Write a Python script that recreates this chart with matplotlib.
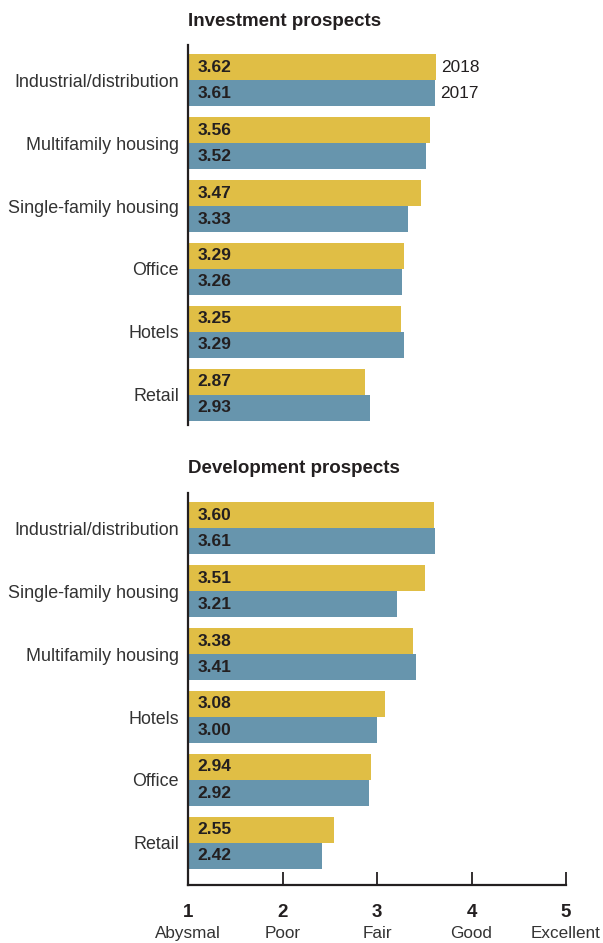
import numpy as np
import matplotlib
matplotlib.use("Agg")
import matplotlib.pyplot as plt
from matplotlib import rcParams

rcParams.update({
    "font.family": ["Liberation Sans", "DejaVu Sans"],
    "text.color": "#231f20",
})

# Survey ratings, 2018 vs 2017
inv_categories = ["Industrial/distribution", "Multifamily housing", "Single-family housing",
                  "Office", "Hotels", "Retail"]
inv_2018 = [3.62, 3.56, 3.47, 3.29, 3.25, 2.87]
inv_2017 = [3.61, 3.52, 3.33, 3.26, 3.29, 2.93]

dev_categories = ["Industrial/distribution", "Single-family housing", "Multifamily housing",
                  "Hotels", "Office", "Retail"]
dev_2018 = [3.60, 3.51, 3.38, 3.08, 2.94, 2.55]
dev_2017 = [3.61, 3.21, 3.41, 3.00, 2.92, 2.42]

scale_ticks = [1, 2, 3, 4, 5]
scale_names = ["Abysmal", "Poor", "Fair", "Good", "Excellent"]

YELLOW = "#e0be45"
BLUE = "#6795ad"
DARK = "#231f20"

W, H = 603, 943
fig = plt.figure(figsize=(W / 100, H / 100), dpi=100)


def px_axes(left, top, right, bottom):
    return fig.add_axes([left / W, 1 - bottom / H, (right - left) / W, (bottom - top) / H])


def draw_panel(ax, cats, v18, v17, title, ylim):
    y = np.arange(len(cats))
    h = 0.413
    ax.barh(y - h / 2, v18, height=h, color=YELLOW)
    ax.barh(y + h / 2, v17, height=h, color=BLUE)
    for yi, a, b in zip(y, v18, v17):
        ax.text(1.1, yi - h / 2, f"{a:.2f}", ha="left", va="center",
                fontsize=12.5, fontweight="bold", color=DARK)
        ax.text(1.1, yi + h / 2, f"{b:.2f}", ha="left", va="center",
                fontsize=12.5, fontweight="bold", color=DARK)
    ax.set_xlim(1, 5)
    ax.set_ylim(*ylim)
    ax.set_yticks(y)
    ax.set_yticklabels(cats, fontsize=12.9, color="#333333")
    ax.tick_params(axis="y", length=0, pad=6.5)
    for s in ["top", "right"]:
        ax.spines[s].set_visible(False)
    ax.spines["left"].set_color(DARK)
    ax.spines["left"].set_linewidth(1.6)
    ax.text(0, 1.04, title, transform=ax.transAxes, ha="left", va="bottom",
            fontsize=13.5, fontweight="bold", color=DARK)
    return y, h


# Investment prospects
ax1 = px_axes(188, 45, 566, 425)
y, h = draw_panel(ax1, inv_categories, inv_2018, inv_2017, "Investment prospects",
                  (5.48, -0.56))
ax1.spines["bottom"].set_visible(False)
ax1.set_xticks([])
ax1.text(inv_2018[0] + 0.06, y[0] - h / 2, "2018", ha="left", va="center",
         fontsize=12.4, color=DARK)
ax1.text(inv_2017[0] + 0.06, y[0] + h / 2, "2017", ha="left", va="center",
         fontsize=12.4, color=DARK)

# Development prospects
ax2 = px_axes(188, 493, 566, 885)
draw_panel(ax2, dev_categories, dev_2018, dev_2017, "Development prospects",
           (5.667, -0.556))
ax2.spines["bottom"].set_color(DARK)
ax2.spines["bottom"].set_linewidth(1.6)
ax2.set_xticks(scale_ticks)
ax2.set_xticklabels([str(t) for t in scale_ticks], fontsize=13.5, fontweight="bold")
ax2.tick_params(axis="x", direction="in", length=9.5, width=1.3, color=DARK,
                pad=13.5, labelcolor=DARK)
for t, name in zip(scale_ticks, scale_names):
    ax2.text(t, -0.105, name, transform=ax2.get_xaxis_transform(), ha="center",
             va="top", fontsize=12.3, color="#333333")

fig.savefig("out.png", dpi=100)
